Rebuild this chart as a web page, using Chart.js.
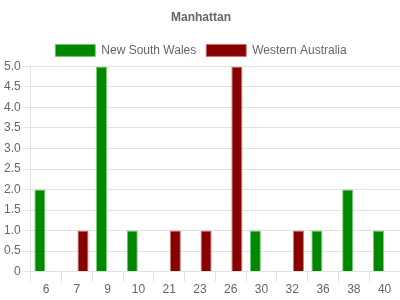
<!DOCTYPE html>
<html>
<head>
<meta charset="utf-8">
<script src="https://cdn.jsdelivr.net/npm/chart.js@4/dist/chart.umd.min.js"></script>
<style>
    html, body { margin: 0; padding: 0; background: #fff; overflow: hidden; }
</style>
</head>
<body>
<canvas id="chart" width="400" height="300"></canvas>
<script>
const labels = ['6', '7', '9', '10', '21', '23', '26', '30', '32', '36', '38', '40'];
const nswValues = [2, 0, 5, 1, 0, 0, 0, 1, 0, 1, 2, 1];
const waValues = [0, 1, 0, 0, 1, 1, 5, 0, 1, 0, 0, 0];

const GRID = '#e2e2e2';
const TEXT = '#666';

Chart.defaults.font.family = '"Liberation Sans", Arial, sans-serif';
Chart.defaults.font.size = 12;
Chart.defaults.color = TEXT;

new Chart(document.getElementById('chart'), {
    type: 'bar',
    data: {
        labels: labels,
        datasets: [
            {
                label: 'New South Wales',
                data: nswValues,
                backgroundColor: '#008800',
                borderColor: 'rgba(110,200,110,0.9)',
                borderWidth: 1
            },
            {
                label: 'Western Australia',
                data: waValues,
                backgroundColor: '#880000',
                borderColor: 'rgba(200,110,110,0.9)',
                borderWidth: 1
            }
        ]
    },
    options: {
        responsive: false,
        animation: false,
        layout: { padding: { left: 2, right: 0, top: 0, bottom: 2 } },
        plugins: {
            title: {
                display: true,
                text: 'Manhattan',
                color: TEXT,
                font: { size: 12, weight: 'bold' },
                padding: { top: 10, bottom: 10 }
            },
            legend: {
                labels: { boxWidth: 40, boxHeight: 12, color: TEXT, padding: 10 }
            },
            tooltip: { enabled: false }
        },
        scales: {
            x: {
                grid: { color: GRID, drawOnChartArea: false, tickLength: 10, offset: true },
                border: { color: GRID },
                ticks: { color: TEXT, padding: 1 }
            },
            y: {
                min: 0,
                max: 5,
                ticks: {
                    stepSize: 0.5,
                    color: TEXT,
                    padding: 2,
                    callback: v => v === 0 ? '0' : v.toFixed(1)
                },
                grid: { color: GRID, tickLength: 8 },
                border: { color: GRID }
            }
        }
    }
});
</script>
</body>
</html>
